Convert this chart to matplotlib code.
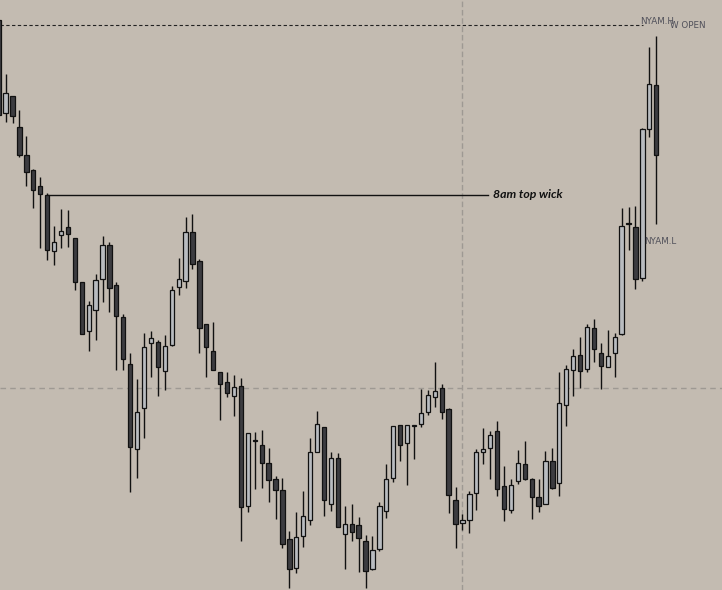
import matplotlib
matplotlib.use("Agg")
import matplotlib.pyplot as plt
import numpy as np

# Candle data (levels, screen-style scale: smaller = higher price)
opens = [20, 113, 96, 127, 155, 170, 186, 195, 251, 235, 227, 238, 282, 331, 310, 279,
         245, 285, 317, 364, 449, 408, 343, 342, 371, 345, 287, 281, 232, 261, 324, 351,
         372, 382, 396, 386, 506, 440, 445, 463, 479, 490, 539, 568, 536, 520, 452, 427,
         504, 458, 534, 524, 525, 541, 569, 549, 511, 478, 425, 443, 426, 424, 412, 397,
         388, 409, 500, 523, 520, 493, 452, 448, 431, 486, 510, 481, 464, 479, 497, 504,
         461, 483, 405, 370, 355, 369, 328, 353, 367, 353, 334, 223, 227, 278, 129, 85]
highs = [17, 74, 96, 110, 136, 169, 177, 193, 226, 209, 210, 238, 282, 301, 274, 236,
         242, 282, 314, 353, 379, 333, 331, 340, 335, 286, 258, 217, 214, 259, 324, 322,
         372, 372, 375, 378, 433, 432, 430, 448, 476, 478, 531, 512, 491, 438, 411, 427,
         452, 453, 506, 504, 517, 535, 536, 502, 464, 426, 425, 425, 425, 389, 390, 362,
         384, 408, 487, 514, 491, 449, 428, 431, 421, 466, 479, 450, 441, 478, 479, 451,
         448, 372, 365, 349, 337, 324, 319, 343, 330, 333, 208, 207, 206, 128, 47, 36]
lows = [116, 122, 123, 157, 186, 208, 248, 260, 265, 248, 247, 290, 334, 351, 340, 302,
        312, 370, 370, 492, 478, 438, 377, 396, 390, 346, 295, 288, 269, 353, 377, 370,
        420, 397, 416, 541, 512, 489, 488, 502, 519, 548, 588, 573, 547, 525, 452, 516,
        511, 527, 569, 541, 572, 588, 570, 551, 518, 482, 461, 485, 459, 427, 415, 407,
        419, 513, 548, 530, 533, 510, 464, 479, 496, 521, 513, 484, 480, 519, 512, 504,
        489, 496, 426, 396, 388, 372, 362, 389, 367, 377, 335, 250, 289, 281, 137, 224]
closes = [115, 93, 116, 155, 172, 190, 194, 250, 242, 231, 234, 282, 334, 305, 280, 245,
          288, 316, 359, 447, 412, 347, 338, 367, 346, 290, 279, 232, 264, 328, 347, 370,
          384, 393, 387, 507, 433, 441, 463, 480, 490, 544, 569, 537, 516, 452, 424, 500,
          458, 527, 524, 532, 538, 571, 550, 506, 479, 426, 445, 425, 425, 413, 395, 391,
          412, 495, 524, 520, 494, 452, 449, 435, 489, 509, 485, 463, 479, 497, 506, 461,
          488, 403, 369, 356, 371, 327, 349, 366, 356, 337, 226, 223, 279, 129, 84, 155]

W_OPEN = 25
NY_LEVEL = 388
EIGHT_AM_WICK = 195
MARK_BAR = 67
WICK_BAR = 7

BG = "#c3bbb1"
DARK = "#3c3c40"
LIGHT = "#b9bcc0"

fig = plt.figure(figsize=(7.22, 5.90), dpi=100)
fig.patch.set_facecolor(BG)
ax = fig.add_axes([0, 0, 1, 1])
ax.set_facecolor(BG)
for s in ax.spines.values():
    s.set_visible(False)
ax.set_xticks([])
ax.set_yticks([])

n = len(opens)
x = np.arange(n)
o = np.array(opens, float)
h = np.array(highs, float)
l = np.array(lows, float)
c = np.array(closes, float)

ax.set_xlim(0.19, 104.5)
ax.set_ylim(590, 0)

# reference lines
ax.axhline(NY_LEVEL, color="#9e9993", lw=1.0, dashes=(4, 3), zorder=1)
ax.axvline(MARK_BAR, color="#9e9993", lw=1.0, dashes=(4, 2), zorder=1)
ax.plot([0.19, 93.1], [W_OPEN, W_OPEN], color="#222222", lw=0.8, dashes=(3, 2.2), zorder=1)
ax.plot([WICK_BAR, 70.7], [EIGHT_AM_WICK, EIGHT_AM_WICK], color="#111111", lw=1.0, zorder=1)
ax.text(71.4, EIGHT_AM_WICK, "8am top wick", fontsize=8.8, fontweight="bold", style="italic",
        family="Lato", color="#111111", va="center", ha="left")

# candles
ax.vlines(x, h, l, color="#111111", lw=1.0, zorder=2)
top = np.minimum(o, c)
bot = np.maximum(o, c)
height = np.maximum(bot - top, 0.8)
bull = c < o
cols = [LIGHT if b else DARK for b in bull]
ax.bar(x, height, bottom=top, width=0.62, color=cols, edgecolor="#111111", linewidth=0.9,
       zorder=3)

# level labels
ax.text(92.65, 22, "NYAM.H", fontsize=6.3, color="#50505a", va="center", ha="left")
ax.text(97.0, 26, "W OPEN", fontsize=6.3, color="#50505a", va="center", ha="left")
ax.text(93.2, 241, "NYAM.L", fontsize=6.3, color="#50505a", va="center", ha="left")

fig.savefig("out.png", dpi=100, facecolor=BG)
